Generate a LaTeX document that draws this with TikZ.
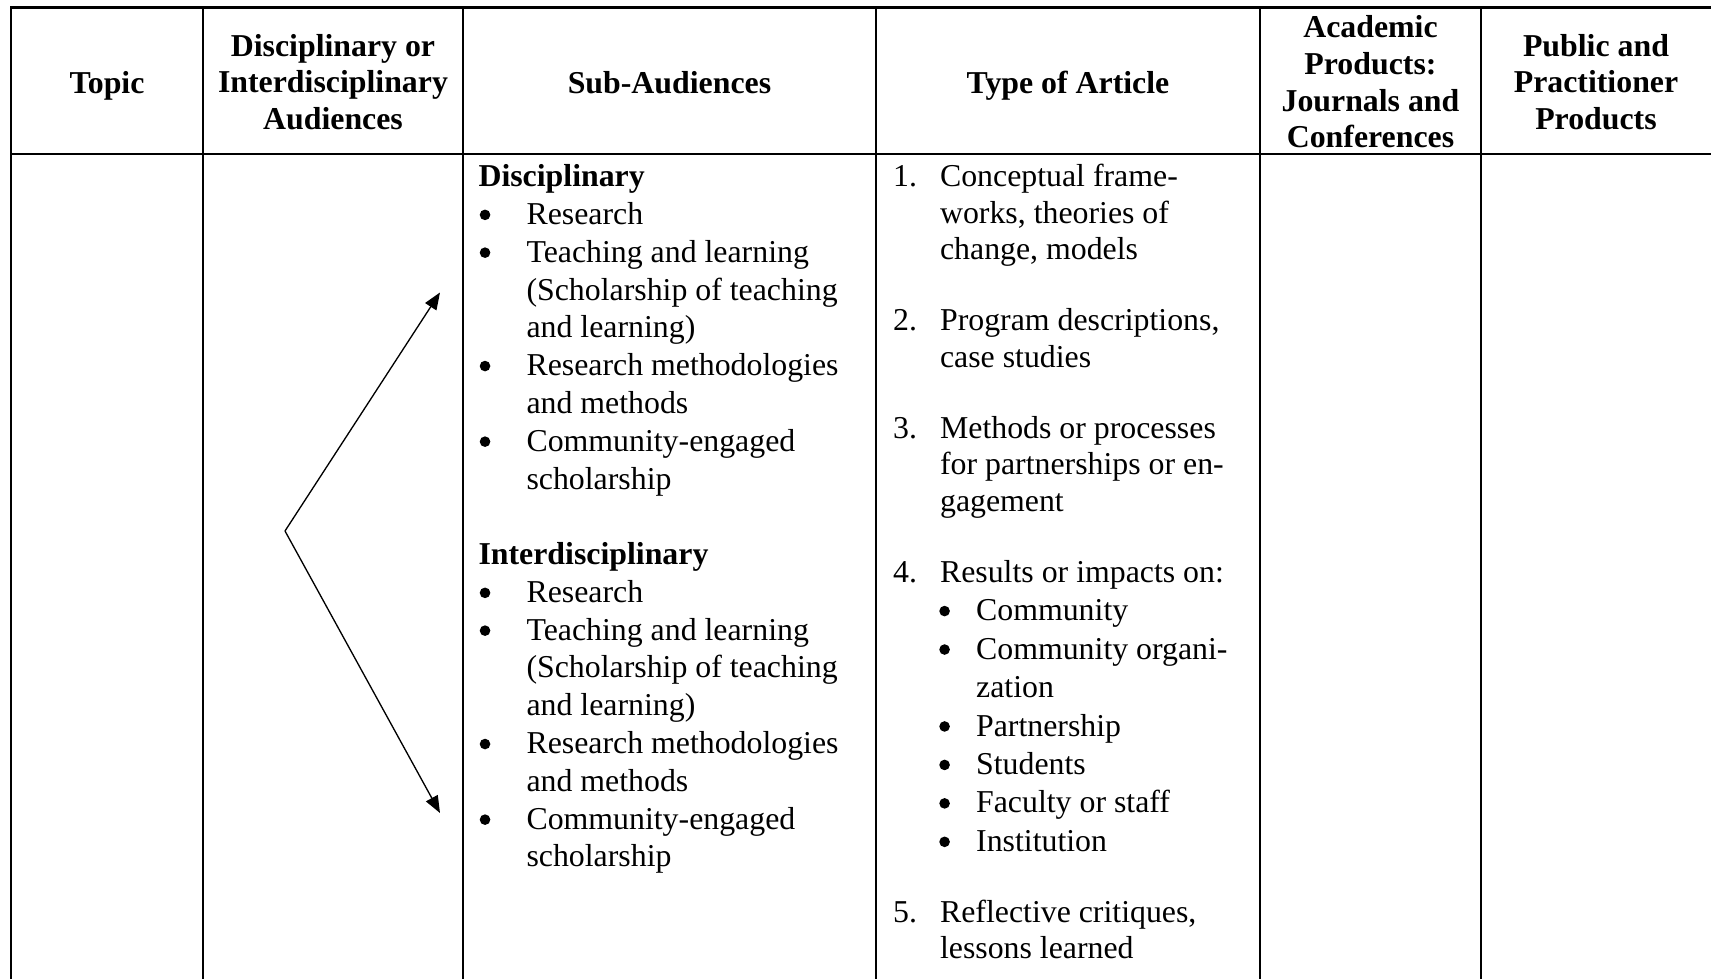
\documentclass[tikz,border=0pt]{standalone}
\usepackage{fontspec}
\setmainfont{Liberation Serif}
\usetikzlibrary{arrows.meta}

\newcommand{\dotmark}{\makebox[0pt]{\tikz[baseline=-3.6pt]\fill circle[radius=2pt];}}
\newcommand{\audbul}{\makebox[18.1pt][l]{\hspace{2.45pt}\dotmark}}
\newcommand{\audind}{\hspace*{18.1pt}}
\newcommand{\typnum}[1]{\makebox[17.7pt][l]{#1}}
\newcommand{\typind}{\hspace*{17.7pt}}
\newcommand{\typbul}{\hspace*{19.4pt}\dotmark\hspace*{11.9pt}}
\newcommand{\typsub}{\hspace*{31.3pt}}

\begin{document}
\begin{tikzpicture}[x=0.377pt,y=-0.377pt]
\tikzset{head/.style = {font=\bfseries\fontsize{12}{13.8}\selectfont, align=center, inner sep=0pt},
  cell/.style = {anchor=north west, align=left, inner sep=0pt},
  rule/.style = {line width=1pt},
  link/.style = {line width=0.5pt, -{Triangle[length=6.4pt,width=5pt]}}}
\def\ytop{7.6}
\def\yhead{154}
\def\ybot{979}
\def\ybase{93.6}
\def\gap{13pt}

\useasboundingbox (0,0) rectangle (1711,979);

% grid
\draw[rule] (11,\ybot) -- (11,\ytop) -- (1711,\ytop);
\draw[rule] (11,\yhead) -- (1711,\yhead);
\foreach \x in {203,463,876,1260,1481}
  \draw[rule] (\x,\ytop) -- (\x,\ybot);

% header row
\node[head, anchor=base] (topic) at (107,\ybase) {Topic};
\node[head] (aud) at (333,82) {Disciplinary or\\Interdisciplinary\\Audiences};
\node[head, anchor=base] (subaud) at (669.5,\ybase) {Sub-Audiences};
\node[head, anchor=base] (type) at (1068,\ybase) {Type of Article};
\node[head] (acad) at (1370.5,82) {Academic\\Products:\\Journals and\\Conferences};
\node[head] (pub) at (1596,82) {Public and\\Practitioner\\Products};

% sub-audiences
\node[cell, font=\fontsize{12}{14.25}\selectfont] (subs) at (478,164) {\textbf{Disciplinary}\\
\audbul Research\\
\audbul Teaching and learning\\
\audind (Scholarship of teaching\\
\audind and learning)\\
\audbul Research methodologies\\
\audind and methods\\
\audbul Community-engaged\\
\audind scholarship\\[\baselineskip]
\textbf{Interdisciplinary}\\
\audbul Research\\
\audbul Teaching and learning\\
\audind (Scholarship of teaching\\
\audind and learning)\\
\audbul Research methodologies\\
\audind and methods\\
\audbul Community-engaged\\
\audind scholarship};

% types of article
\node[cell, font=\fontsize{12}{13.75}\selectfont] (types) at (892.6,164) {\typnum{1.}Conceptual frame-\\
\typind works, theories of\\
\typind change, models\\[\gap]
\typnum{2.}Program descriptions,\\
\typind case studies\\[\gap]
\typnum{3.}Methods or processes\\
\typind for partnerships or en-\\
\typind gagement\\[\gap]
\typnum{4.}Results or impacts on:\\[0.75pt]
\typbul Community\\[0.75pt]
\typbul Community organi-\\[0.75pt]
\typsub zation\\[0.75pt]
\typbul Partnership\\[0.75pt]
\typbul Students\\[0.75pt]
\typbul Faculty or staff\\[0.75pt]
\typbul Institution\\[\gap]
\typnum{5.}Reflective critiques,\\
\typind lessons learned};

% audience arrows
\coordinate (fork) at (285,531);
\coordinate (uptip) at (440,292.5);
\coordinate (downtip) at (440,813);
\draw[link] (fork) -- (uptip);
\draw[link] (fork) -- (downtip);
\end{tikzpicture}
\end{document}
